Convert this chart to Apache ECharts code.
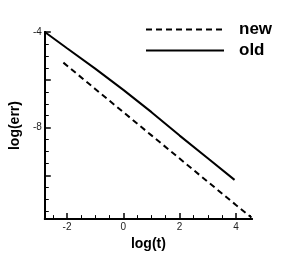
<!DOCTYPE html>
<html><head><meta charset="utf-8">
<script src="https://cdn.jsdelivr.net/npm/echarts@6/dist/echarts.min.js"></script>
<style>html,body{margin:0;padding:0;background:#fff}#c{width:288px;height:256px}</style>
</head><body><div id="c"></div>
<script>
const newX = [-2.13, -1, 0, 1, 2, 3, 4, 4.55];
const newY = [-5.28, -6.38, -7.35, -8.32, -9.29, -10.26, -11.23, -11.75];
const oldX = [-2.79, -2, -1, 0, 1, 2, 3, 3.95];
const oldY = [-4.0, -4.68, -5.53, -6.42, -7.35, -8.33, -9.28, -10.18];
const xLabels = [-2, 0, 2, 4];
const xMinor = [-2.5, -1.5, -1, -0.5, 0.5, 1, 1.5, 2.5, 3, 3.5, 4.5];
const yLabels = [-4, -8];
const yMajor = [-4, -6, -8, -10];
const yMinor = [-4.5, -5, -5.5, -6.5, -7, -7.5, -8.5, -9, -9.5, -10.5, -11, -11.5];
const xRange = [-2.79, 4.57];
const yRange = [-11.82, -4];

const chart = echarts.init(document.getElementById('c'), null, {renderer: 'canvas'});
const font = '"Liberation Sans", Arial, sans-serif';
const axisBase = (min, max) => ({type: 'value', min, max, splitLine: {show: false}, gridIndex: 0});
const axisLine = {show: true, onZero: false, lineStyle: {color: '#000', width: 2}};
chart.setOption({
  animation: false,
  backgroundColor: '#fff',
  grid: {left: 38, right: 36, top: 32, bottom: 28, containLabel: false},
  legend: {
    left: 145, top: 21, padding: 0, orient: 'vertical', itemWidth: 78, itemHeight: 12, itemGap: 4,
    itemStyle: {opacity: 0},
    textStyle: {fontFamily: font, fontWeight: 'bold', fontSize: 17, color: '#000', padding: [0, 0, 0, 10]},
    data: ['new', 'old']
  },
  xAxis: [
    Object.assign(axisBase(xRange[0], xRange[1]), {
      position: 'bottom',
      name: 'log(t)', nameLocation: 'middle', nameGap: 14,
      nameTextStyle: {fontFamily: font, fontWeight: 'bold', fontSize: 14, color: '#000'},
      axisLine: axisLine,
      axisTick: {show: true, inside: true, length: 6, customValues: xLabels, lineStyle: {color: '#000', width: 1.5}},
      axisLabel: {show: true, customValues: xLabels, fontFamily: font, fontSize: 10, color: '#222', margin: 3}
    }),
    Object.assign(axisBase(xRange[0], xRange[1]), {
      position: 'bottom',
      axisLine: axisLine,
      axisTick: {show: true, inside: true, length: 4, customValues: xMinor, lineStyle: {color: '#000', width: 1}},
      axisLabel: {show: false}
    })
  ],
  yAxis: [
    Object.assign(axisBase(yRange[0], yRange[1]), {
      position: 'left',
      name: 'log(err)', nameLocation: 'middle', nameGap: 18, nameRotate: 90,
      nameTextStyle: {fontFamily: font, fontWeight: 'bold', fontSize: 14, color: '#000'},
      axisLine: axisLine,
      axisTick: {show: true, inside: true, length: 6, customValues: yMajor, lineStyle: {color: '#000', width: 1.5}},
      axisLabel: {show: true, customValues: yLabels, fontFamily: font, fontSize: 10, color: '#222', margin: 3}
    }),
    Object.assign(axisBase(yRange[0], yRange[1]), {
      position: 'left',
      axisLine: axisLine,
      axisTick: {show: true, inside: true, length: 4, customValues: yMinor, lineStyle: {color: '#000', width: 1}},
      axisLabel: {show: false}
    })
  ],
  series: [
    {name: 'new', type: 'line', xAxisIndex: 0, yAxisIndex: 0, symbol: 'none', clip: false,
     data: newX.map((x, i) => [x, newY[i]]),
     lineStyle: {color: '#000', width: 2, type: [6, 4]}, itemStyle: {color: '#000'}},
    {name: 'old', type: 'line', xAxisIndex: 0, yAxisIndex: 0, symbol: 'none', clip: false,
     data: oldX.map((x, i) => [x, oldY[i]]),
     lineStyle: {color: '#000', width: 2, type: 'solid'}, itemStyle: {color: '#000'}}
  ]
});
</script></body></html>
